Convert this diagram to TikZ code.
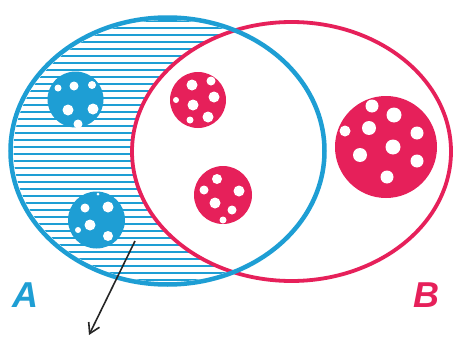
\documentclass[tikz,border=0pt]{standalone}
\usepackage{fontspec}
\setsansfont{Liberation Sans}
\usetikzlibrary{arrows.meta}
\definecolor{ablue}{RGB}{30,158,212}
\definecolor{bred}{RGB}{230,32,90}
\tikzset{
  hatchline/.style={ablue, line width=1.8pt},
  bluedisk/.style={fill=ablue},
  reddisk/.style={fill=bred},
  hole/.style={fill=white},
  setA/.style={draw=ablue, line width=4.5pt},
  setB/.style={draw=bred, line width=3.8pt},
  setlabel/.style={font=\sffamily\bfseries\itshape\fontsize{36}{36}\selectfont, inner sep=0pt},
  pointer/.style={draw=black!85, line width=1.6pt, -{Straight Barb[length=10pt,width=12pt]}}
}
\begin{document}
\begin{tikzpicture}[x=1pt,y=-1pt]
\useasboundingbox (0,0) rectangle (456,343);
\fill[white] (0,0) rectangle (456,343);
% hatching in A
\begin{scope}
  \clip (167.5,151) ellipse [x radius=154pt, y radius=131pt];
  \foreach \y in {21,28,...,285} \draw[hatchline] (0,\y) -- (456,\y);
\end{scope}
% B interior white
\fill[white] (291.5,151.5) ellipse [x radius=159.5pt, y radius=129.5pt];
% blue disks
\fill[bluedisk] (75.5,99.5) circle [radius=28pt];
\foreach \p/\r in {{(74,86)}/4.5, {(92,85)}/4, {(58,88)}/3.5, {(68,110)}/5.5, {(93,109)}/5.5, {(78,124)}/4.5}
  \fill[hole] \p circle [radius=\r pt];
\fill[bluedisk] (96.5,220) circle [radius=28.5pt];
\foreach \p/\r in {{(85,208)}/4.5, {(108,207)}/5.5, {(90,225)}/5.5, {(108,236)}/5, {(78,230)}/3, {(98,194)}/1.5}
  \fill[hole] \p circle [radius=\r pt];
% red disks
\fill[reddisk] (198,100) circle [radius=28pt];
\foreach \p/\r in {{(192,85)}/5.5, {(211,81)}/4.5, {(214,97)}/5.5, {(193,105)}/5.5, {(208,117)}/5.5, {(190,120)}/3.5, {(176,100)}/3}
  \fill[hole] \p circle [radius=\r pt];
\fill[reddisk] (223,195) circle [radius=29pt];
\foreach \p/\r in {{(217,179)}/5, {(239,191)}/5.5, {(204,190)}/4.5, {(215,203)}/5.5, {(232,210)}/4.5, {(223,220)}/3.5}
  \fill[hole] \p circle [radius=\r pt];
\fill[reddisk] (386,147) circle [radius=51pt];
\foreach \p/\r in {{(372,106)}/6.5, {(394,115)}/7.5, {(369,128)}/7, {(417,133)}/6.5, {(345,131)}/5.5, {(393,147)}/7.5, {(360,155)}/7, {(417,161)}/6.5, {(387,177)}/6.5}
  \fill[hole] \p circle [radius=\r pt];
% outlines
\draw[setB] (291.5,151.5) ellipse [x radius=159.5pt, y radius=129.5pt];
\draw[setA] (167.5,151) ellipse [x radius=157pt, y radius=133.5pt];
% labels
\node[setlabel, text=ablue] (labA) at (25,295) {A};
\node[setlabel, text=bred] (labB) at (426,295) {B};
% pointer
\coordinate (ptstart) at (135,241);
\coordinate (ptend) at (89,335);
\draw[pointer] (ptstart) -- (ptend);
\end{tikzpicture}
\end{document}
